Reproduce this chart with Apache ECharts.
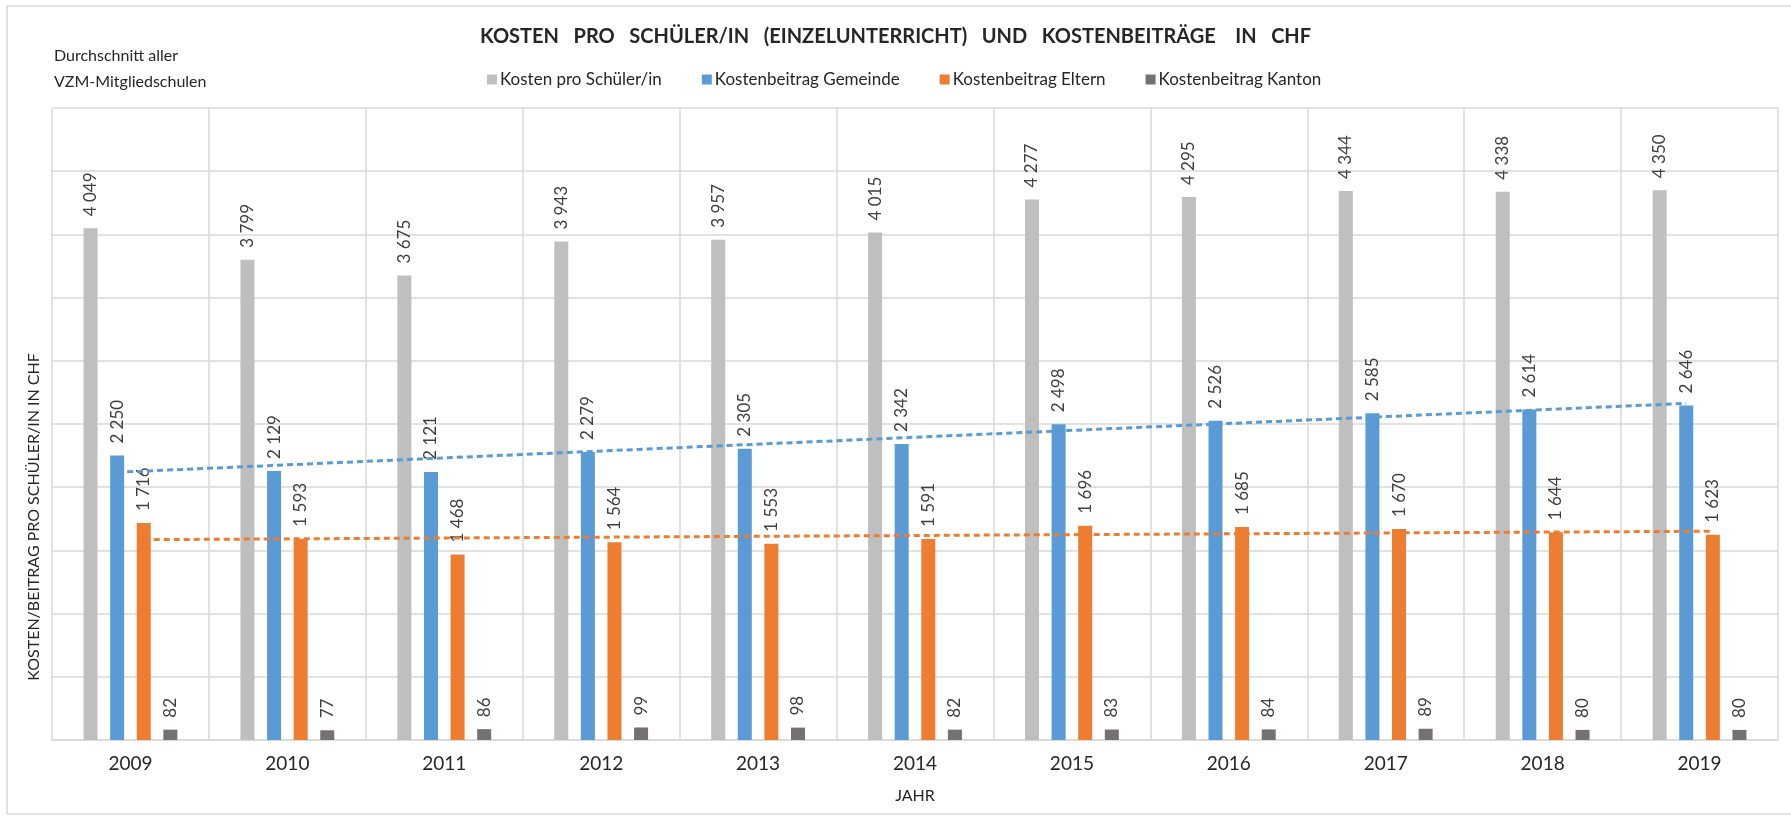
<!DOCTYPE html>
<html>
<head>
<meta charset="utf-8">
<script src="https://cdn.jsdelivr.net/npm/echarts@6/dist/echarts.min.js"></script>
<style>
  html, body { margin: 0; padding: 0; background: #fff; }
  #main { width: 1791px; height: 820px; }
</style>
</head>
<body>
<div id="main"></div>
<script>
// Jahre (x axis)
var years = ['2009', '2010', '2011', '2012', '2013', '2014', '2015', '2016', '2017', '2018', '2019'];

// Werte in CHF
var kostenSchueler = [4049, 3799, 3675, 3943, 3957, 4015, 4277, 4295, 4344, 4338, 4350];
var beitragGemeinde = [2250, 2129, 2121, 2279, 2305, 2342, 2498, 2526, 2585, 2614, 2646];
var beitragEltern = [1716, 1593, 1468, 1564, 1553, 1591, 1696, 1685, 1670, 1644, 1623];
var beitragKanton = [82, 77, 86, 99, 98, 82, 83, 84, 89, 80, 80];

// Trendlinien: Start- und Endwert (2009 / 2019)
var trendGemeinde = [2118, 2663];
var trendEltern = [1585, 1652];

var FONT = 'Lato';

function fmt(v) {
  return String(v).replace(/\B(?=(\d{3})+(?!\d))/g, ' ');
}

var labelOpt = {
  show: true,
  position: 'top',
  rotate: 90,
  align: 'left',
  verticalAlign: 'middle',
  distance: 12,
  color: '#404040',
  fontFamily: FONT,
  fontSize: 17,
  formatter: function (p) { return fmt(p.value); }
};

function trendLine(vals, color) {
  return {
    silent: true,
    symbol: ['none', 'none'],
    label: { show: false },
    lineStyle: { color: color, width: 3, type: [6, 4] },
    data: [[
      { coord: [years[0], vals[0]] },
      { coord: [years[years.length - 1], vals[1]] }
    ]]
  };
}

var chartDom = document.getElementById('main');
var myChart = echarts.init(chartDom);
var option;

option = {
  animation: false,
  backgroundColor: '#fff',
  title: {
    text: 'KOSTEN   PRO   SCHÜLER/IN   (EINZELUNTERRICHT)   UND   KOSTENBEITRÄGE    IN   CHF',
    left: 'center',
    top: 22,
    textStyle: { fontFamily: FONT, fontSize: 20, fontWeight: 'bold', color: '#262626' }
  },
  legend: {
    left: 482,
    top: 66,
    itemWidth: 10,
    itemHeight: 10,
    itemGap: 40,
    icon: 'rect',
    textStyle: { fontFamily: FONT, fontSize: 17, color: '#262626', padding: [0, 0, 0, -2] },
    data: ['Kosten pro Schüler/in', 'Kostenbeitrag Gemeinde', 'Kostenbeitrag Eltern', 'Kostenbeitrag Kanton']
  },
  grid: {
    left: 52,
    right: 13,
    top: 108,
    bottom: 80
  },
  xAxis: [
    {
      type: 'category',
      data: years,
      name: 'JAHR',
      nameLocation: 'middle',
      nameGap: 48,
      nameTextStyle: { fontFamily: FONT, fontSize: 16, color: '#262626' },
      axisLine: { lineStyle: { color: '#d9d9d9', width: 1.5 } },
      axisTick: { show: false },
      axisLabel: { fontFamily: FONT, fontSize: 19, color: '#262626', margin: 14 },
      splitLine: { show: true, lineStyle: { color: '#d9d9d9', width: 1.5 } }
    }
  ],
  yAxis: [
    {
      type: 'value',
      min: 0,
      max: 5000,
      interval: 500,
      axisLabel: { show: false },
      axisLine: { show: false },
      axisTick: { show: false },
      splitLine: { lineStyle: { color: '#d9d9d9', width: 1.5 } }
    }
  ],
  graphic: [
    {
      type: 'rect',
      shape: { x: 7, y: 6, width: 1800, height: 808 },
      style: { fill: 'none', stroke: '#d9d9d9', lineWidth: 1.5 },
      silent: true
    },
    {
      type: 'text',
      left: 54,
      top: 43,
      style: {
        text: 'Durchschnitt aller\nVZM-Mitgliedschulen',
        fontFamily: FONT,
        fontSize: 16,
        lineHeight: 26,
        fill: '#262626'
      }
    },
    {
      type: 'text',
      x: 34,
      y: 517,
      rotation: Math.PI / 2,
      style: {
        text: 'KOSTEN/BEITRAG PRO SCHÜLER/IN IN CHF',
        fontFamily: FONT,
        fontSize: 16,
        fill: '#262626',
        textAlign: 'center',
        textVerticalAlign: 'middle'
      }
    }
  ],
  series: [
    {
      name: 'Kosten pro Schüler/in',
      type: 'bar',
      barWidth: 14,
      barGap: '90%',
      itemStyle: { color: '#bfbfbf' },
      label: labelOpt,
      data: kostenSchueler
    },
    {
      name: 'Kostenbeitrag Gemeinde',
      type: 'bar',
      barWidth: 14,
      barGap: '90%',
      itemStyle: { color: '#5b9bd5' },
      label: labelOpt,
      data: beitragGemeinde,
      markLine: trendLine(trendGemeinde, '#5b9bd5')
    },
    {
      name: 'Kostenbeitrag Eltern',
      type: 'bar',
      barWidth: 14,
      barGap: '90%',
      itemStyle: { color: '#ed7d31' },
      label: labelOpt,
      data: beitragEltern,
      markLine: trendLine(trendEltern, '#ed7d31')
    },
    {
      name: 'Kostenbeitrag Kanton',
      type: 'bar',
      barWidth: 14,
      barGap: '90%',
      itemStyle: { color: '#767171' },
      label: labelOpt,
      data: beitragKanton
    }
  ]
};

option && myChart.setOption(option);

window.onresize = function () {
  myChart.resize();
};
</script>
</body>
</html>
